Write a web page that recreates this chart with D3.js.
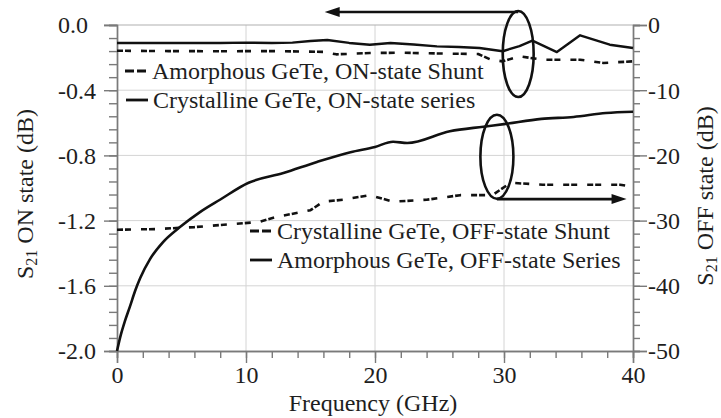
<!DOCTYPE html>
<html><head><meta charset="utf-8">
<script src="https://cdn.jsdelivr.net/npm/d3@7"></script>
<style>body{margin:0;background:#fff}svg{display:block}</style>
</head><body><svg id="c" width="721" height="418"></svg>
<script>
// ---- data ----
const freqOnSeries = [0,2,4,6,8,10,12,13.6,15,16.3,18,19.6,21.2,23,24.8,26.5,28.1,29.9,31.2,32.2,34.1,35.9,38.2,40];
const onSeries     = [-0.11,-0.11,-0.11,-0.11,-0.11,-0.108,-0.11,-0.108,-0.098,-0.092,-0.11,-0.121,-0.11,-0.12,-0.131,-0.135,-0.141,-0.161,-0.129,-0.096,-0.166,-0.063,-0.121,-0.141];

const freqOnShunt  = [0,4,8,12,16,17,19.6,22,25,28,29,29.9,31.2,33,35.9,37.7,40];
const onShunt      = [-0.158,-0.16,-0.161,-0.16,-0.165,-0.18,-0.172,-0.17,-0.175,-0.178,-0.213,-0.223,-0.192,-0.213,-0.213,-0.233,-0.223];

const freqOffShunt = [0,3,6,9.8,11,12.4,13.5,15,16,17.5,19.6,21.4,24,26.6,29.1,30.5,33,35.7,39,40];
const offShunt     = [-31.4,-31.3,-31.0,-30.4,-30.2,-29.4,-29.0,-28.4,-27.1,-26.8,-26.1,-27.1,-26.8,-26.1,-26.1,-24.2,-24.5,-24.5,-24.5,-24.8];

const freqOffSeries = [0,0.3,0.6,1.0,1.4,1.8,2.56,3.57,4.88,6.43,7.98,10.2,12.9,15.5,18.1,20,21.4,22.5,25.8,28.4,30,32.9,35.4,37.9,40];
const offSeries     = [-50,-47.5,-45.5,-43.2,-40.8,-38.8,-35.9,-33.3,-31.0,-28.7,-26.8,-24.2,-22.7,-21.0,-19.5,-18.7,-17.9,-18.1,-16.3,-15.6,-15.2,-14.4,-14.1,-13.5,-13.3];

const xTicks = [0,10,20,30,40];
const yLeftTicks = [0,-0.4,-0.8,-1.2,-1.6,-2.0];
const yRightTicks = [0,-10,-20,-30,-40,-50];
const legendTop = ["Amorphous GeTe, ON-state Shunt","Crystalline GeTe, ON-state series"];
const legendBottom = ["Crystalline GeTe, OFF-state Shunt","Amorphous GeTe, OFF-state Series"];
const xTitle = "Frequency (GHz)";
const yLeftTitle = ["S","21"," ON state (dB)"];
const yRightTitle = ["S","21"," OFF state (dB)"];

// ---- layout ----
const svg = d3.select("#c");
const FONT = "'Liberation Serif','Times New Roman',serif";
const TXT = "#1e1e1e";
const AX = "#7a7a7a";
const GRID = "#d4d4d4";
const x = d3.scaleLinear().domain([0,40]).range([117,633]);
const yL = d3.scaleLinear().domain([-2,0]).range([351,25]);
const yR = d3.scaleLinear().domain([-50,0]).range([351,25]);

// grid
const g = svg.append("g");
g.selectAll("line.gx").data(xTicks.slice(1,-1)).join("line")
  .attr("x1",d=>x(d)).attr("x2",d=>x(d)).attr("y1",yL(0)).attr("y2",yL(-2))
  .attr("stroke",GRID).attr("stroke-width",1);
g.selectAll("line.gy").data(yLeftTicks.slice(1,-1)).join("line")
  .attr("x1",x(0)).attr("x2",x(40)).attr("y1",d=>yL(d)).attr("y2",d=>yL(d))
  .attr("stroke",GRID).attr("stroke-width",1);
g.append("line").attr("x1",x(0)-13).attr("x2",x(40)).attr("y1",yL(0)).attr("y2",yL(0))
  .attr("stroke","#b0b0b0").attr("stroke-width",1.2);

function styleAxis(sel){
  sel.select(".domain").attr("stroke",AX).attr("stroke-width",1.4);
  sel.selectAll(".tick line").attr("stroke",AX).attr("stroke-width",1.4);
  sel.selectAll("text").attr("fill",TXT).style("font-family",FONT).style("font-size","24px");
}
// left axis
const minorL = d3.range(0,-2.0001,-0.08);
const gLm = svg.append("g").attr("transform",`translate(${x(0)},0)`)
  .call(d3.axisLeft(yL).tickValues(minorL).tickSize(8).tickFormat(""));
styleAxis(gLm);
const gL = svg.append("g").attr("transform",`translate(${x(0)},0)`)
  .call(d3.axisLeft(yL).tickValues(yLeftTicks).tickSize(13).tickFormat(d=>d.toFixed(1)));
styleAxis(gL);
gL.selectAll("text").attr("text-anchor","start").attr("x",-59).attr("dy","0.33em");

// right axis
const minorR = d3.range(0,-50.001,-2);
const gRm = svg.append("g").attr("transform",`translate(${x(40)},0)`)
  .call(d3.axisRight(yR).tickValues(minorR).tickSize(7).tickFormat(""));
styleAxis(gRm);
const gR = svg.append("g").attr("transform",`translate(${x(40)},0)`)
  .call(d3.axisRight(yR).tickValues(yRightTicks).tickSize(14).tickFormat(d=>String(d)));
styleAxis(gR);
gR.selectAll("text").attr("x",15).attr("dy","0.33em");

// bottom axis
const minorX = d3.range(0,40.001,2);
const gBm = svg.append("g").attr("transform",`translate(0,${yL(-2)})`)
  .call(d3.axisBottom(x).tickValues(minorX).tickSize(7).tickFormat(""));
styleAxis(gBm);
const gB = svg.append("g").attr("transform",`translate(0,${yL(-2)})`)
  .call(d3.axisBottom(x).tickValues(xTicks).tickSize(12).tickFormat(d=>String(d)));
styleAxis(gB);
gB.selectAll("text").attr("y",15).attr("dy","0.71em");

// titles
svg.append("text").attr("x",373).attr("y",411).attr("text-anchor","middle")
  .attr("fill",TXT).style("font-family",FONT).style("font-size","24px").text(xTitle);
function vTitle(parts, cx, cy){
  const t = svg.append("text").attr("transform",`translate(${cx},${cy}) rotate(-90)`)
    .attr("text-anchor","middle").attr("fill",TXT).style("font-family",FONT).style("font-size","24px");
  t.append("tspan").text(parts[0]);
  t.append("tspan").attr("dy",4).style("font-size","16px").text(parts[1]);
  t.append("tspan").attr("dy",-4).text(parts[2]);
}
vTitle(yLeftTitle, 33, 194);
vTitle(yRightTitle, 713, 196);

// series
const line = (xs, ys, ysc, curve) => d3.line().curve(curve||d3.curveLinear).x((d,i)=>x(xs[i])).y(d=>ysc(d))(ys);
const plot = svg.append("g").attr("fill","none").attr("stroke","#111").attr("stroke-linejoin","round");
plot.append("path").attr("d",line(freqOnSeries,onSeries,yL)).attr("stroke-width",2.4);
plot.append("path").attr("d",line(freqOnShunt,onShunt,yL)).attr("stroke-width",2.6).attr("stroke-dasharray","6,2,6,10");
plot.append("path").attr("d",line(freqOffShunt,offShunt,yR)).attr("stroke-width",2.6).attr("stroke-dasharray","6,2,6,10");
plot.append("path").attr("d",line(freqOffSeries,offSeries,yR,d3.curveMonotoneX)).attr("stroke-width",2.6);

// legends
function legendItem(px, py, dashed, label){
  const it = svg.append("g");
  it.append("line").attr("x1",px).attr("x2",px+22).attr("y1",py).attr("y2",py)
    .attr("stroke","#111").attr("stroke-width",2.8).attr("stroke-dasharray",dashed?"9,3":null);
  it.append("text").attr("x",px+27).attr("y",py+8).attr("fill",TXT)
    .style("font-family",FONT).style("font-size","24px").text(label);
}
legendItem(125,71,true,legendTop[0]);
legendItem(126,100,false,legendTop[1]);
legendItem(250,231,true,legendBottom[0]);
legendItem(250,260,false,legendBottom[1]);

// annotations: ellipses + arrows (placed in data coordinates)
const ann = svg.append("g").attr("fill","none").attr("stroke","#111").attr("stroke-width",2.6);
const e1 = {f:31.1, v:-0.178, rf:1.2, rv:0.264};
ann.append("ellipse").attr("cx",x(e1.f)).attr("cy",yL(e1.v))
  .attr("rx",x(e1.rf)-x(0)).attr("ry",yL(0)-yL(e1.rv));
const a1 = {from:e1.f, to:16.1, v:0.08};
ann.append("line").attr("x1",x(a1.from)).attr("x2",x(a1.to)+12).attr("y1",yL(a1.v)).attr("y2",yL(a1.v));
svg.append("path").attr("fill","#111")
  .attr("d",`M${x(a1.to)},${yL(a1.v)} l15,-5 l0,10 z`);

const e2 = {f:29.45, v:-20.2, rf:1.28, rv:6.44};
ann.append("ellipse").attr("cx",x(e2.f)).attr("cy",yR(e2.v))
  .attr("rx",x(e2.rf)-x(0)).attr("ry",yR(0)-yR(e2.rv));
const a2 = {from:e2.f, to:39.5, v:-26.7};
ann.append("line").attr("x1",x(a2.from)).attr("x2",x(a2.to)-12).attr("y1",yR(a2.v)).attr("y2",yR(a2.v));
svg.append("path").attr("fill","#111")
  .attr("d",`M${x(a2.to)},${yR(a2.v)} l-15,-5 l0,10 z`);
</script>
</body></html>
